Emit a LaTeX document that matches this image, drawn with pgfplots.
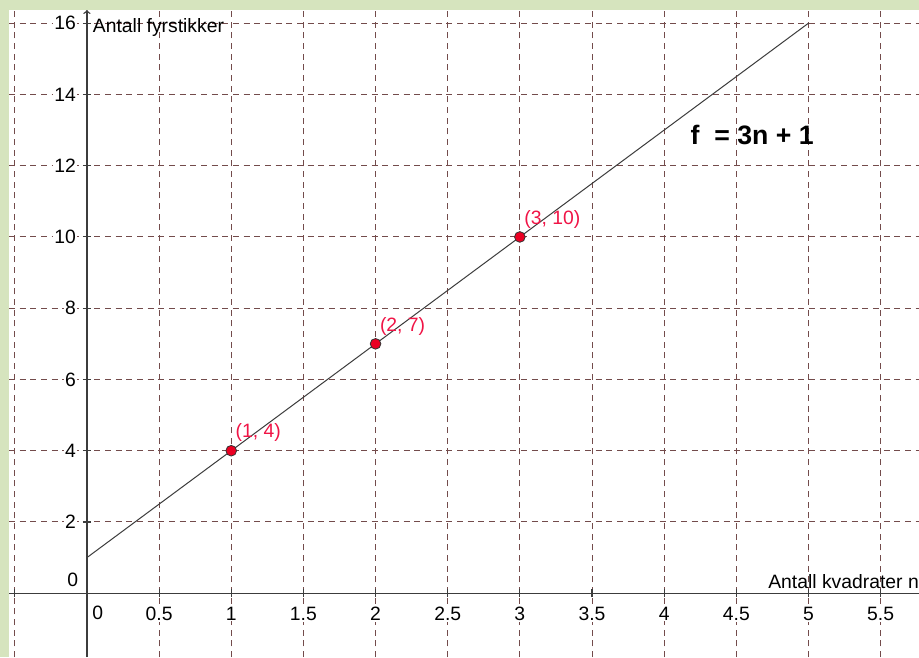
\documentclass[border=0pt]{standalone}
\usepackage{fontspec}
\setmainfont{Liberation Sans}
\usepackage{pgfplots}
\pgfplotsset{compat=1.18}
\definecolor{frame}{RGB}{214,228,190}
\definecolor{gridc}{RGB}{115,75,75}
\definecolor{axisc}{RGB}{60,60,60}
\definecolor{ptred}{RGB}{235,0,35}
\definecolor{lblred}{RGB}{240,20,70}

\begin{document}
\begin{tikzpicture}
% green frame on top and left only, outside the axis area
\fill[frame] (-6.75pt,485.25pt) rectangle (682.5pt,492.75pt);
\fill[frame] (-6.75pt,0) rectangle (0pt,492.75pt);
\begin{axis}[
  set layers,
  at={(0,0)}, anchor=south west,
  width=682.5pt, height=485.25pt, scale only axis,
  xmin=-0.54, xmax=5.766, ymin=-1.79, ymax=16.37,
  axis lines=middle,
  axis background/.style={fill=white},
  x axis line style={-, axisc, line width=1pt},
  y axis line style={->, axisc, line width=1pt},
  xtick={-0.5,0,0.5,1,1.5,2,2.5,3,3.5,4,4.5,5,5.5},
  xticklabels={{},{},0.5,1,1.5,2,2.5,3,3.5,4,4.5,5,5.5},
  ytick={0,2,4,6,8,10,12,14,16},
  yticklabels={{},2,4,6,8,10,12,14,16},
  grid=major,
  major grid style={gridc, line width=0.75pt, dash pattern=on 4.5pt off 3.5pt},
  tick style={axisc, line width=0.8pt},
  major tick length=6pt, tick align=center,
  ticklabel style={font=\fontsize{14.5}{17}\selectfont, text=black, fill=white, inner sep=1pt},
  xticklabel style={anchor=north, yshift=-6pt},
  yticklabel style={anchor=east, xshift=-4pt},
  clip=false,
]
\addplot[axisc, line width=0.75pt] coordinates {(0,1) (5,16)};
\addplot[only marks, mark=*, mark size=4pt,
  mark options={fill=ptred, draw=black!80, line width=0.6pt}]
  coordinates {(1,4) (2,7) (3,10)};
\node[anchor=south west, text=lblred, font=\fontsize{14.5}{17}\selectfont, inner sep=1pt] at (axis cs:1.02,4.2) {(1, 4)};
\node[anchor=south west, text=lblred, font=\fontsize{14.5}{17}\selectfont, inner sep=1pt] at (axis cs:2.02,7.2) {(2, 7)};
\node[anchor=south west, text=lblred, font=\fontsize{14.5}{17}\selectfont, inner sep=1pt] at (axis cs:3.02,10.2) {(3, 10)};
\node[font=\fontsize{20}{24}\selectfont\bfseries] at (axis cs:4.61,12.86) {f\ \ = 3n + 1};
\node[anchor=base west, font=\fontsize{14.5}{17}\selectfont, inner sep=0pt] at (axis cs:0.04,15.73) {Antall fyrstikker};
\node[anchor=base west, font=\fontsize{14.5}{17}\selectfont, inner sep=0pt] at (axis cs:4.72,0.12) {Antall kvadrater n};
\node[anchor=base east, font=\fontsize{14.5}{17}\selectfont, inner sep=0pt] at (axis cs:-0.06,0.2) {0};
\node[anchor=north, font=\fontsize{14.5}{17}\selectfont, fill=white, inner sep=1pt] at (axis cs:0.075,-0.3) {0};
\end{axis}
\pgfresetboundingbox
\useasboundingbox (-6.75pt,0) rectangle (682.5pt,492.75pt);
\end{tikzpicture}
\end{document}
